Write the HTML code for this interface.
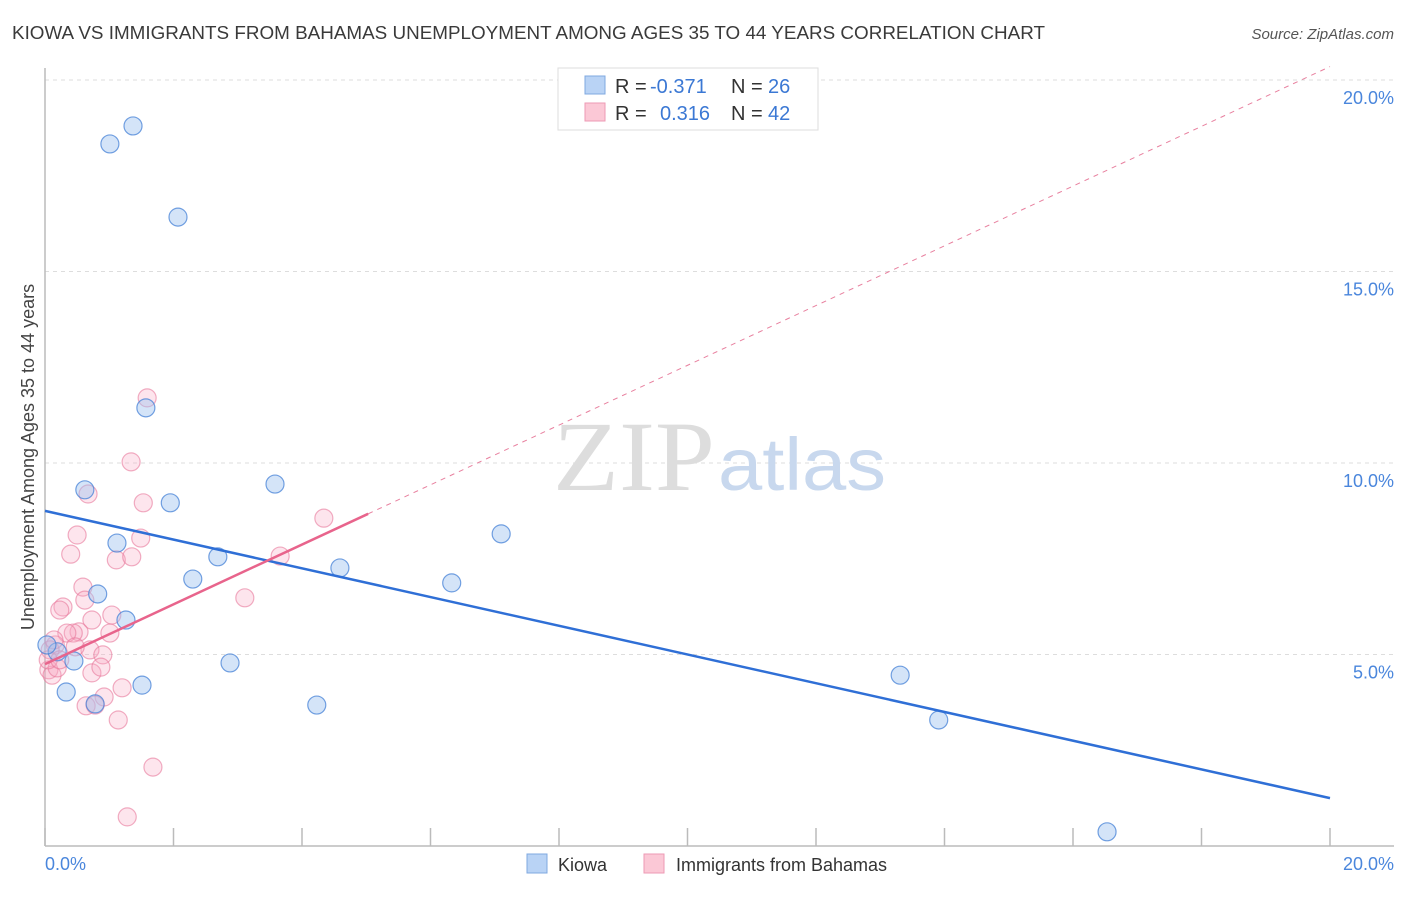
<!DOCTYPE html>
<html><head><meta charset="utf-8"><style>
body{margin:0;background:#fff;font-family:"Liberation Sans",sans-serif}
</style></head><body>
<svg width="1406" height="892" xmlns="http://www.w3.org/2000/svg">
<text x="12" y="39" font-size="18.5" fill="#3a3a3a" textLength="1033" lengthAdjust="spacingAndGlyphs">KIOWA VS IMMIGRANTS FROM BAHAMAS UNEMPLOYMENT AMONG AGES 35 TO 44 YEARS CORRELATION CHART</text>
<text x="1394" y="39" font-size="15" fill="#555" text-anchor="end" font-style="italic">Source: ZipAtlas.com</text>
<g id="grid"></g>
<text x="553" y="490" font-size="100" fill="#ddd" font-family="Liberation Serif,serif" textLength="162" lengthAdjust="spacingAndGlyphs">ZIP</text>
<text x="718" y="490" font-size="74" fill="#c8d8ee" textLength="168" lengthAdjust="spacingAndGlyphs">atlas</text>
<g id="marks"></g>
<text transform="translate(34,457) rotate(-90)" font-size="18" fill="#444" text-anchor="middle">Unemployment Among Ages 35 to 44 years</text>
<g>
<rect x="558" y="68" width="260" height="62" fill="#fff" stroke="#ddd"/>
<rect x="585" y="76" width="20" height="18" fill="#b9d3f5" stroke="#7fa8e0"/>
<rect x="585" y="103" width="20" height="18" fill="#fbc8d6" stroke="#ee9ab4"/>
<text y="93" font-size="20" fill="#333"><tspan x="615">R =</tspan><tspan x="650" fill="#3b78d4">-0.371</tspan><tspan x="731">N =</tspan><tspan x="768" fill="#3b78d4">26</tspan></text>
<text y="120" font-size="20" fill="#333"><tspan x="615">R =</tspan><tspan x="660" fill="#3b78d4">0.316</tspan><tspan x="731">N =</tspan><tspan x="768" fill="#3b78d4">42</tspan></text>
</g>
<g>
<rect x="527" y="854" width="20" height="19" fill="#b9d3f5" stroke="#7fa8e0"/>
<text x="558" y="871" font-size="18" fill="#333">Kiowa</text>
<rect x="644" y="854" width="20" height="19" fill="#fbc8d6" stroke="#ee9ab4"/>
<text x="676" y="871" font-size="18" fill="#333">Immigrants from Bahamas</text>
</g>
</svg>
<script>
const xTicks=[0,20];
const yTicks=[5,10,15,20];
const kiowaX=[1.37,1.01,2.07,1.57,0.62,1.95,3.58,1.12,2.69,7.10,2.30,4.59,6.33,0.82,1.26,0.45,0.19,2.88,1.51,0.33,0.78,4.23,13.31,13.91,16.53,0.03];
const kiowaY=[18.80,18.33,16.42,11.44,9.30,8.96,9.45,7.91,7.55,8.15,6.97,7.26,6.87,6.58,5.90,4.83,5.07,4.78,4.20,4.02,3.71,3.68,4.46,3.29,0.37,5.25];
const bahX=[1.59,1.34,0.67,1.53,1.49,0.50,0.40,1.11,1.35,0.59,0.62,0.28,0.23,0.73,1.04,1.01,0.53,0.44,0.34,0.70,0.90,0.47,0.16,0.08,0.06,0.11,0.19,0.73,0.87,1.20,0.92,0.64,0.78,1.14,1.68,1.28,3.66,3.11,4.34,0.14,0.05,0.23];
const bahY=[11.70,10.03,9.19,8.96,8.04,8.12,7.62,7.47,7.55,6.76,6.42,6.24,6.16,5.90,6.03,5.56,5.59,5.56,5.56,5.12,4.99,5.20,5.25,5.12,4.60,4.46,4.65,4.52,4.67,4.13,3.89,3.66,3.68,3.29,2.06,0.76,7.57,6.48,8.56,5.38,4.86,4.86];
const kiowaTrend=[8.75,-0.375];
const bahTrend=[4.75,0.78];
const bahSolidEnd=5.03;
const NS="http://www.w3.org/2000/svg";
const X=v=>45+v*64.25, Y=v=>846-v*38.3;
function mk(tag,attrs,parent){const e=document.createElementNS(NS,tag);for(const k in attrs)e.setAttribute(k,attrs[k]);parent.appendChild(e);return e;}
const grid=document.getElementById('grid'), marks=document.getElementById('marks');
yTicks.forEach(t=>{
 const l=mk('line',{x1:45,x2:1394,y1:Y(t),y2:Y(t),stroke:'#ddd','stroke-dasharray':'4,4'},grid);
 
 
 const tx=mk('text',{x:1394,y:Y(t)+24,'font-size':18,fill:'#4a86dc','text-anchor':'end'},grid);
 tx.textContent=t.toFixed(1)+'%';
 
 
});
const ax=mk('line',{x1:45,x2:45,y1:68,y2:846,stroke:'#bbb','stroke-width':1.5},grid);


const bx=mk('line',{x1:45,x2:1394,y1:846,y2:846,stroke:'#bbb','stroke-width':1.5},grid);


for(let i=0;i<=10;i++){
 const t=mk('line',{x1:X(i*2),x2:X(i*2),y1:828,y2:846,stroke:'#bbb','stroke-width':1.5},grid);
 
 
}
xTicks.forEach((t,i)=>{
 const tx=mk('text',{x:i==0?45:1394,y:870,'font-size':18,fill:'#4a86dc','text-anchor':i==0?'start':'end'},grid);
 tx.textContent=t.toFixed(1)+'%';
 
 
});
bahX.forEach((x,i)=>{
 const c=mk('circle',{cx:X(x),cy:Y(bahY[i]),r:9,fill:'rgba(248,170,195,0.3)',stroke:'rgba(232,120,155,0.6)','stroke-width':1.2},marks);
 
 
});
kiowaX.forEach((x,i)=>{
 const c=mk('circle',{cx:X(x),cy:Y(kiowaY[i]),r:9,fill:'rgba(160,195,240,0.45)',stroke:'rgba(70,130,215,0.75)','stroke-width':1.2},marks);
 
 
});
const kl=mk('line',{x1:X(0),y1:Y(kiowaTrend[0]),x2:X(20),y2:Y(kiowaTrend[0]+20*kiowaTrend[1]),stroke:'#2f6fd6','stroke-width':2.5},marks);


const bd=mk('line',{x1:X(bahSolidEnd),y1:Y(bahTrend[0]+bahSolidEnd*bahTrend[1]),x2:X(20),y2:Y(bahTrend[0]+20*bahTrend[1]),stroke:'#e8809f','stroke-width':1,'stroke-dasharray':'5,5'},marks);


const bl=mk('line',{x1:X(0),y1:Y(bahTrend[0]),x2:X(bahSolidEnd),y2:Y(bahTrend[0]+bahSolidEnd*bahTrend[1]),stroke:'#e8648c','stroke-width':2.5},marks);


</script>
</body></html>
